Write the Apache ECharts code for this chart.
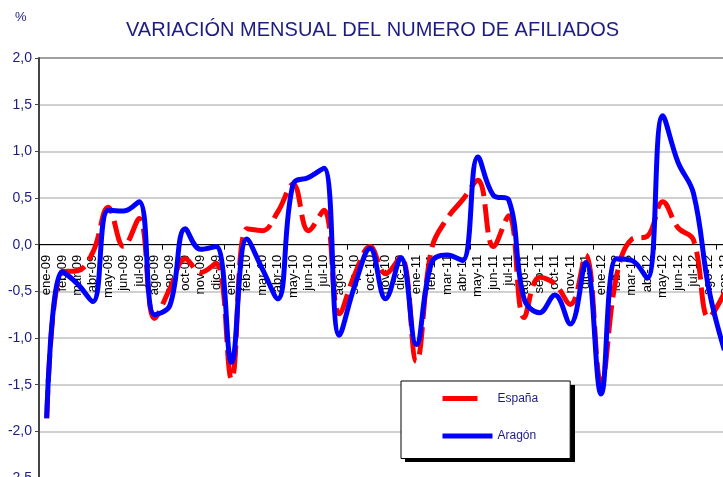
<!DOCTYPE html>
<html>
<head>
<meta charset="utf-8">
<script src="https://cdn.jsdelivr.net/npm/echarts@6/dist/echarts.min.js"></script>
<style>
  html, body { margin: 0; padding: 0; background: #fff; }
  #chart { width: 723px; height: 477px; }
</style>
</head>
<body>
<div id="chart"></div>
<script>
// meses (ene-09 .. sep-12)
const meses = [
  'ene-09', 'feb-09', 'mar-09', 'abr-09', 'may-09', 'jun-09', 'jul-09', 'ago-09', 'sep-09', 'oct-09', 'nov-09', 'dic-09',
  'ene-10', 'feb-10', 'mar-10', 'abr-10', 'may-10', 'jun-10', 'jul-10', 'ago-10', 'sep-10', 'oct-10', 'nov-10', 'dic-10',
  'ene-11', 'feb-11', 'mar-11', 'abr-11', 'may-11', 'jun-11', 'jul-11', 'ago-11', 'sep-11', 'oct-11', 'nov-11', 'dic-11',
  'ene-12', 'feb-12', 'mar-12', 'abr-12', 'may-12', 'jun-12', 'jul-12', 'ago-12', 'sep-12'
];

// variación mensual (%)
const espana = [
  -1.86, -0.29, -0.28, -0.08, 0.40, -0.02, 0.28, -0.79, -0.47, -0.15, -0.30, -0.20,
  -1.44, 0.17, 0.15, 0.35, 0.65, 0.15, 0.37, -0.74, -0.32, -0.02, -0.31, -0.13,
  -1.25, -0.04, 0.28, 0.48, 0.69, -0.02, 0.31, -0.78, -0.35, -0.42, -0.64, -0.11,
  -1.48, -0.34, 0.06, 0.09, 0.46, 0.18, 0.05, -0.78, -0.52
];
const aragon = [
  -1.86, -0.29, -0.42, -0.61, 0.37, 0.36, 0.46, -0.75, -0.65, 0.17, -0.05, -0.02,
  -1.26, 0.06, -0.26, -0.58, 0.65, 0.72, 0.82, -0.97, -0.44, -0.04, -0.58, -0.14,
  -1.07, -0.19, -0.11, -0.17, 0.94, 0.53, 0.48, -0.58, -0.73, -0.54, -0.85, -0.19,
  -1.60, -0.15, -0.17, -0.36, 1.38, 0.88, 0.55, -0.48, -1.13
];

const navy = '#1c1c84';
const fuente = "'Liberation Sans', Arial, sans-serif";

// eje: -2,5 .. 2,0 ; distancia del cero al borde inferior del grid
const yMin = -2.5, yMax = 2;
const gridTop = 58, gridBottom = -1;
const plotH = 477 - gridTop - gridBottom;
const ceroOffset = plotH * (0 - yMin) / (yMax - yMin);

// caja de la leyenda
const leyenda = { x: 401, y: 381, w: 170, h: 77 };

const chart = echarts.init(document.getElementById('chart'));

chart.setOption({
  animation: false,
  backgroundColor: '#fff',
  title: {
    text: 'VARIACIÓN MENSUAL DEL NUMERO DE AFILIADOS',
    left: 126,
    top: 20,
    padding: 0,
    textStyle: { color: navy, fontSize: 20, fontWeight: 'normal', fontFamily: fuente }
  },
  graphic: [
    {
      type: 'text',
      left: 15,
      top: 11,
      style: { text: '%', fill: navy, font: '13px ' + fuente }
    },
    {
      // sombra de la leyenda
      type: 'rect',
      z: 3,
      shape: { x: leyenda.x + 4, y: leyenda.y + 4, width: leyenda.w, height: leyenda.h },
      style: { fill: '#000' }
    }
  ],
  legend: {
    orient: 'vertical',
    left: leyenda.x,
    top: leyenda.y,
    z: 5,
    padding: [11.5, 32, 16.5, 39],
    itemWidth: 50,
    itemHeight: 14,
    itemGap: 25.5,
    backgroundColor: '#fff',
    borderColor: '#000',
    borderWidth: 1,
    textStyle: { color: navy, fontSize: 12, fontFamily: fuente },
    itemStyle: { opacity: 0 },
    lineStyle: { width: 5 },
    data: [
      { name: 'España', lineStyle: { type: [35, 60] } },
      { name: 'Aragón' }
    ]
  },
  grid: {
    left: 39,
    right: -9,
    top: gridTop,
    bottom: gridBottom,
    containLabel: false,
    outerBoundsMode: 'none'
  },
  xAxis: [
    {
      type: 'category',
      data: meses,
      boundaryGap: true,
      axisLine: { onZero: true, lineStyle: { color: '#000', width: 1 } },
      axisTick: { show: true, length: 5, lineStyle: { color: '#000' } },
      axisLabel: { show: false },
      splitLine: { show: false }
    },
    {
      // solo etiquetas, colocadas sobre la línea del cero
      type: 'category',
      data: meses,
      position: 'bottom',
      offset: -ceroOffset,
      boundaryGap: true,
      axisLine: { show: false, onZero: false },
      axisTick: { show: false },
      axisLabel: {
        interval: 0,
        rotate: 90,
        margin: 10,
        color: '#000',
        fontSize: 13,
        fontFamily: fuente
      },
      splitLine: { show: false }
    }
  ],
  yAxis: {
    type: 'value',
    min: yMin,
    max: yMax,
    interval: 0.5,
    axisLine: { show: true, lineStyle: { color: '#444', width: 2 } },
    axisTick: { show: true, length: 4, lineStyle: { color: '#444' } },
    axisLabel: {
      margin: 7,
      color: navy,
      fontSize: 14,
      fontFamily: fuente,
      formatter: v => v.toFixed(1).replace('.', ',')
    },
    splitLine: {
      lineStyle: {
        color: ['#c0c0c0', '#c0c0c0', '#c0c0c0', '#c0c0c0', '#c0c0c0',
                '#c0c0c0', '#c0c0c0', '#c0c0c0', '#c0c0c0', '#808080'],
        width: 1.5
      }
    }
  },
  series: [
    {
      name: 'España',
      type: 'line',
      data: espana,
      smooth: 0.4,
      symbol: 'none',
      lineStyle: { color: '#ff0000', width: 5, type: [28, 8], cap: 'butt' },
      itemStyle: { color: '#ff0000' },
      z: 2
    },
    {
      name: 'Aragón',
      type: 'line',
      data: aragon,
      smooth: 0.4,
      symbol: 'none',
      lineStyle: { color: '#0000ff', width: 5 },
      itemStyle: { color: '#0000ff' },
      z: 3
    }
  ]
});
</script>
</body>
</html>
